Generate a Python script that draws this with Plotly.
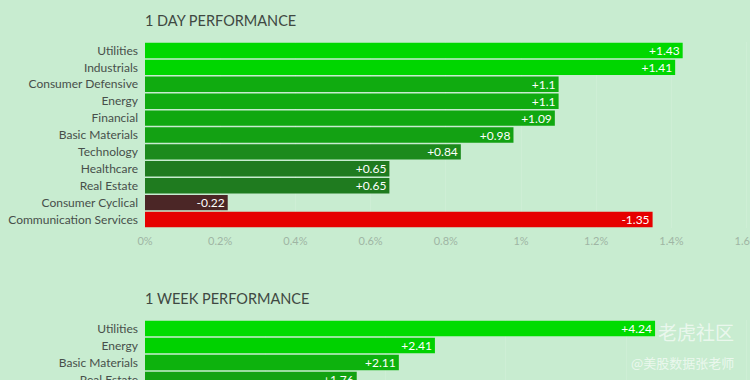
import plotly.graph_objects as go

# ---- data ----
day_sectors = ["Utilities", "Industrials", "Consumer Defensive", "Energy", "Financial",
               "Basic Materials", "Technology", "Healthcare", "Real Estate",
               "Consumer Cyclical", "Communication Services"]
day_values = [1.43, 1.41, 1.1, 1.1, 1.09, 0.98, 0.84, 0.65, 0.65, -0.22, -1.35]
day_colors = ["#00d800", "#00d600", "#10ab10", "#10ab10", "#10a810", "#13a113",
              "#1c8a1c", "#1f7b1f", "#1f7b1f", "#4b2626", "#e60000"]

week_sectors = ["Utilities", "Energy", "Basic Materials", "Real Estate"]
week_values = [4.24, 2.41, 2.11, 1.76]
week_colors = ["#00dc00", "#00d200", "#0db20d", "#12a212"]

day_ticks = [0, 0.2, 0.4, 0.6, 0.8, 1.0, 1.2, 1.4, 1.6]
day_tick_labels = ["0%", "0.2%", "0.4%", "0.6%", "0.8%", "1%", "1.2%", "1.4%", "1.6%"]

W, H = 750, 380
BG = "#c8ecd0"
LABEL = "#474f4a"
FONT = "Lato"


def fmt(v):
    return f"{v:+g}"


fig = go.Figure()

fig.add_trace(go.Bar(
    y=day_sectors, x=[abs(v) for v in day_values], orientation="h",
    marker=dict(color=day_colors, line=dict(width=0)),
    text=[fmt(v) for v in day_values], textposition="inside",
    insidetextanchor="end", textangle=0, constraintext="none",
    textfont=dict(family=FONT, size=12, color="white"),
    xaxis="x", yaxis="y", hoverinfo="skip", showlegend=False,
))
fig.add_trace(go.Bar(
    y=week_sectors, x=week_values, orientation="h",
    marker=dict(color=week_colors, line=dict(width=0)),
    text=[fmt(v) for v in week_values], textposition="inside",
    insidetextanchor="end", textangle=0, constraintext="none",
    textfont=dict(family=FONT, size=12, color="white"),
    xaxis="x2", yaxis="y2", hoverinfo="skip", showlegend=False,
))


def py(p):
    return 1 - p / H


plot_w = W - 145
day_px_per_unit = 75.2 / 0.2
week_px_per_unit = 120.3
pitch = 17.0

grid = "rgba(255,255,255,0.12)"

fig.update_layout(
    width=W, height=H, autosize=False,
    margin=dict(l=145, r=0, t=0, b=0, autoexpand=False),
    paper_bgcolor=BG, plot_bgcolor=BG,
    font=dict(family=FONT, size=12, color=LABEL),
    bargap=0.09,
    xaxis=dict(domain=[0, 1], anchor="y", range=[0, plot_w / day_px_per_unit],
               tickmode="array", tickvals=day_ticks, ticktext=day_tick_labels,
               showgrid=True, gridcolor=grid, automargin=False,
               gridwidth=1, zeroline=False, showline=False, ticks="",
               tickfont=dict(family=FONT, size=11, color="#9fb5a4"),
               ticklabeloverflow="allow", ticklabelstandoff=5, fixedrange=True),
    yaxis=dict(domain=[py(228), py(42)], anchor="x", type="category",
               categoryorder="array", categoryarray=day_sectors,
               range=[len(day_sectors) - 0.5, -0.5], showgrid=False, automargin=False,
               zeroline=False, ticks="", ticklabelstandoff=6,
               tickfont=dict(family=FONT, size=12, color=LABEL), fixedrange=True),
    xaxis2=dict(domain=[0, 1], anchor="y2", range=[0, plot_w / week_px_per_unit],
                dtick=1, showgrid=True, gridcolor=grid, zeroline=False, automargin=False,
                showticklabels=False, ticks="", fixedrange=True),
    yaxis2=dict(domain=[0, py(320)], anchor="x2", type="category",
                categoryorder="array", categoryarray=week_sectors,
                range=[-0.5 + 60 / pitch, -0.5], showgrid=False, automargin=False,
                zeroline=False, ticks="", ticklabelstandoff=6,
                tickfont=dict(family=FONT, size=12, color=LABEL), fixedrange=True),
)

annotations = [
    dict(text="1 DAY PERFORMANCE", x=0, xref="paper", xanchor="left", xshift=-2,
         y=py(21), yref="paper", yanchor="middle", showarrow=False,
         font=dict(family=FONT, size=14.5, color="#3f4842")),
    dict(text="1 WEEK PERFORMANCE", x=0, xref="paper", xanchor="left", xshift=-2,
         y=py(298), yref="paper", yanchor="middle", showarrow=False,
         font=dict(family=FONT, size=14.5, color="#3f4842")),
    dict(text="老虎社区", x=1, xref="paper", xanchor="right", xshift=-14,
         y=py(331), yref="paper", yanchor="middle", showarrow=False,
         font=dict(family="Noto Sans CJK SC", size=19, color="rgba(255,255,255,0.65)")),
    dict(text="@美股数据张老师", x=1, xref="paper", xanchor="right", xshift=-14,
         y=py(362), yref="paper", yanchor="middle", showarrow=False,
         font=dict(family="Noto Sans CJK SC", size=13, color="rgba(255,255,255,0.65)")),
]
fig.update_layout(annotations=annotations)

fig.write_html("out.html")
